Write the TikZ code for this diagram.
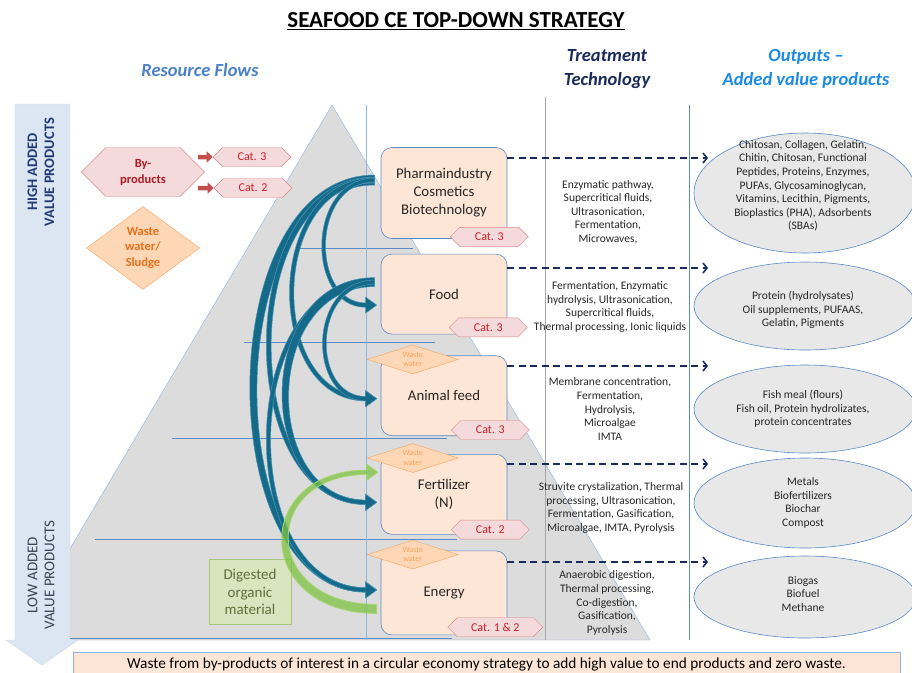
\documentclass[tikz,border=0pt]{standalone}
\usepackage{fontspec}
\setmainfont{Carlito}
\usepackage{tikz}
\usetikzlibrary{calc,positioning,arrows.meta,shapes.geometric,shapes.symbols}

\definecolor{peach}{HTML}{FDE6D5}
\definecolor{steel}{HTML}{5A8AC6}
\definecolor{rose}{HTML}{F4DADA}
\definecolor{roseline}{HTML}{D9898B}
\definecolor{catred}{HTML}{CC1F2A}
\definecolor{apricot}{HTML}{FDD7B6}
\definecolor{apricotline}{HTML}{F9A45C}
\definecolor{orangetext}{HTML}{E8701A}
\definecolor{petrol}{HTML}{156A8A}
\definecolor{petrolline}{HTML}{4B95B5}
\definecolor{leaf}{HTML}{7DC242}
\definecolor{leafline}{HTML}{A6D86E}
\definecolor{navy}{HTML}{1A2C5E}
\definecolor{mist}{HTML}{E8E8E8}
\definecolor{sky}{HTML}{8EB4E3}
\definecolor{pyramidgrey}{HTML}{DCDCDC}
\definecolor{iceblue}{HTML}{DCE6F2}
\definecolor{sage}{HTML}{D9E5BF}
\definecolor{sageline}{HTML}{A9C77A}
\definecolor{mossy}{HTML}{5F6F3A}
\definecolor{flowsblue}{HTML}{4A80C4}
\definecolor{techblue}{HTML}{1B2A5C}
\definecolor{outblue}{HTML}{1A8AE6}
\definecolor{highblue}{HTML}{1F3A75}
\definecolor{lowgrey}{HTML}{3C4255}
\definecolor{brick}{HTML}{C0504D}

% curved block arrow: [style]{from}{to}{bulge}{half width at start (sign = turn)}
\newcommand{\flowarc}[5][flow]{%
  \filldraw[#1] let \p1=(#2), \p2=(#3), \n1={#5}, \n2={2.2*#5/abs(#5)},
      \n3={1.5*abs(#5)+2}, \n4={8*#5/abs(#5)} in
    (\x1,\y1+\n1) .. controls (\x1-#4,\y1+\n1) and (\x1-#4,\y2-\n2) .. (\x2-11,\y2-\n2)
    -- (\x2-11,\y2-\n4) -- (\x2,\y2) -- (\x2-11,\y2+\n4) -- (\x2-11,\y2+\n2)
    .. controls (\x1-#4+\n3,\y2+\n2) and (\x1-#4+\n3,\y1-\n1) .. (\x1,\y1-\n1) -- cycle;}

\begin{document}
\begin{tikzpicture}
  [x=1pt,y=-1pt,
  stage/.style={rectangle,rounded corners=11pt,draw=steel,fill=peach,semithick,
    minimum width=126pt,minimum height=80pt,align=center,text=black!85,
    font=\fontsize{14.8}{18}\selectfont},
  cat/.style={signal,signal to=west and east,draw=roseline,fill=rose,text=catred,
    inner sep=0pt,minimum width=78pt,minimum height=19pt,font=\fontsize{12}{13}\selectfont},
  waste/.style={diamond,aspect=3,draw=apricotline,fill=apricot,text=apricotline,align=center,
    inner sep=0pt,minimum width=91pt,minimum height=29pt,font=\fontsize{8}{9.5}\selectfont},
  tech/.style={align=center,text=black!85,font=\fontsize{11.5}{13.6}\selectfont},
  output/.style={ellipse,draw=steel,fill=mist,semithick,minimum width=222pt},
  outtext/.style={align=center,text=black!85,font=\fontsize{11.5}{13.6}\selectfont},
  header/.style={align=center,font=\bfseries\itshape\fontsize{18.5}{24}\selectfont},
  level/.style={draw=steel,line width=.7pt},
  towards/.style={draw=navy,line width=1.6pt,dash pattern=on 7pt off 4.5pt,
    -{Straight Barb[length=4pt,width=10pt]}},
  push/.style={draw=brick,line width=4.5pt,-{Triangle[length=6pt,width=11pt]}},
  flow/.style={fill=petrol,draw=petrolline,line width=.5pt},
  regrow/.style={fill=leaf,fill opacity=.75,draw=leafline,line width=.8pt}
  ]
  \useasboundingbox (0,0) rectangle (912,672);

  % pyramid, levels and columns
  \filldraw[fill=pyramidgrey,draw=sky,thin] (332,105) -- (650,640) -- (16,640) -- cycle;
  \draw[level] (300,248) -- (413,248);
  \draw[level] (244,342) -- (435,342);
  \draw[level] (172,438) -- (447,438);
  \draw[level] (95,539) -- (457,539);
  \draw[level] (70,638) -- (452,638);
  \draw[sky,thin] (366,105) -- (366,640);
  \draw[black!35,thin] (545,97) -- (545,640);
  \draw[steel,thin] (689,105) -- (689,640);

  % value axis
  \filldraw[fill=iceblue,draw=iceblue!85!steel,thin] (15,104) -- (70,104) -- (70,640) -- (78,640)
    -- (42,665) -- (6,640) -- (15,640) -- cycle;
  \node[rotate=90,align=center,text=highblue,font=\bfseries\fontsize{14.5}{17}\selectfont]
    (high) at (41,172) {HIGH ADDED\\VALUE PRODUCTS};
  \node[rotate=90,align=center,text=lowgrey,font=\fontsize{15}{17}\selectfont]
    (low) at (41,575) {LOW ADDED\\VALUE PRODUCTS};

  % headings
  \node[font=\bfseries\fontsize{23}{26}\selectfont] (title) at (456,21)
    {\underline{SEAFOOD CE TOP-DOWN STRATEGY}};
  \node[header,text=flowsblue] (flows) at (200,70) {Resource Flows};
  \node[header,text=techblue] (treatment) at (607,69) {Treatment\\Technology};
  \node[header,text=outblue] (outputs) at (806,69) {Outputs –\\Added value products};

  % resources
  \node[signal,signal to=west and east,draw=roseline,fill=rose,text=catred!85!black,
    minimum width=123pt,minimum height=49pt,inner sep=0pt,align=center,
    font=\bfseries\fontsize{12.5}{16}\selectfont] (byproducts) at (143,172) {By-\\products};
  \node[cat] (bycat3) at (252,157) {Cat. 3};
  \node[cat] (bycat2) at (253,188) {Cat. 2};
  \coordinate (push3) at (198,157);
  \coordinate (push2) at (198,188);
  \draw[push] (push3) -- (bycat3);
  \draw[push] (push2) -- (bycat2);
  \node[diamond,aspect=1.36,draw=apricotline,fill=apricot,text=orangetext,align=center,
    inner sep=0pt,minimum width=113pt,minimum height=83pt,
    font=\bfseries\fontsize{12.5}{15.5}\selectfont] (sludge) at (143,248) {Waste\\water/\\Sludge};
  \node[rectangle,draw=sageline,fill=sage,semithick,minimum width=82pt,minimum height=65pt,
    align=center,text=mossy,font=\fontsize{15}{17.5}\selectfont]
    (digested) at (250,592) {Digested\\organic\\material};

  % uses
  \node[stage,minimum height=91pt] (pharma) at (444,193) {Pharmaindustry\\Cosmetics\\Biotechnology};
  \node[stage] (food) [below = 15pt of pharma] {Food};
  \node[stage] (animal) [below = 21pt of food] {Animal feed};
  \node[stage] (fert) [below = 18pt of animal] {Fertilizer\\(N)};
  \node[stage,minimum height=84pt] (energy) [below = 16pt of fert] {Energy};

  \node[waste] (animalww) at ($(animal.north west)+(32,4)$) {Waste\\water};
  \node[waste] (fertww) at ($(fert.north west)+(32,4)$) {Waste\\water};
  \node[waste] (energyww) at ($(energy.north west)+(32,4)$) {Waste\\water};

  \node[cat] (pharmacat) at ($(pharma.south east)+(-18,-2)$) {Cat. 3};
  \node[cat] (foodcat) at ($(food.south east)+(-19,-7)$) {Cat. 3};
  \node[cat] (animalcat) at ($(animal.south east)+(-17,-6)$) {Cat. 3};
  \node[cat] (fertcat) at ($(fert.south east)+(-17,-5)$) {Cat. 2};
  \node[cat,minimum width=95pt] (energycat) at ($(energy.south east)+(-12,-8)$) {Cat. 1 \& 2};

  % cascading flows
  \coordinate (pharmasrc) at ($(pharma.west)+(-6,-13)$);
  \coordinate (foodsrc) at ($(food.west)+(-6,-12)$);
  \coordinate (foodtip) at ($(food.west)+(-4,11)$);
  \coordinate (animaltip) at ($(animal.west)+(-4,3)$);
  \coordinate (fertip) at ($(fert.west)+(-4,8)$);
  \coordinate (energytip) at ($(energy.west)+(-4,-3)$);
  \coordinate (energysrc) at ($(energy.west)+(-4,16)$);
  \coordinate (fertgreen) at ($(fert.west)+(-3,-22)$);
  \flowarc{pharmasrc}{energytip}{165}{5}
  \flowarc{pharmasrc}{fertip}{143}{3}
  \flowarc{pharmasrc}{animaltip}{112}{2.5}
  \flowarc{pharmasrc}{foodtip}{69}{2}
  \flowarc{foodsrc}{energytip}{143}{2.5}
  \flowarc{foodsrc}{fertip}{122}{4.5}
  \flowarc{foodsrc}{animaltip}{68}{2}
  \flowarc[regrow]{energysrc}{fertgreen}{125}{-4.5}

  % treatments
  \node[tech] (pharmatech) at (608,212) {Enzymatic pathway,\\Supercritical fluids,\\Ultrasonication,\\Fermentation,\\Microwaves,};
  \node[tech] (foodtech) at (610,307) {Fermentation, Enzymatic\\hydrolysis, Ultrasonication,\\Supercritical fluids,\\Thermal processing, Ionic liquids};
  \node[tech] (animaltech) at (610,409) {Membrane concentration,\\Fermentation,\\Hydrolysis,\\Microalgae\\IMTA};
  \node[tech] (ferttech) at (611,508) {Struvite crystalization, Thermal\\processing, Ultrasonication,\\Fermentation, Gasification,\\Microalgae, IMTA, Pyrolysis};
  \node[tech] (energytech) at (607,603) {Anaerobic digestion,\\Thermal processing,\\Co-digestion,\\Gasification,\\Pyrolysis};

  % outputs
  \node[output,minimum height=120pt] (bioactives) at (805,193) {};
  \node[output,minimum height=88pt] (proteins) at (805,306) {};
  \node[output,minimum height=88pt] (fishmeal) at (805,409) {};
  \node[output,minimum height=90pt] (nutrients) at (805,503) {};
  \node[output,minimum height=82pt] (fuels) at (805,597) {};
  \node[outtext] (bioactivestext) at (803,186) {Chitosan, Collagen, Gelatin,\\Chitin, Chitosan, Functional\\Peptides, Proteins, Enzymes,\\PUFAs, Glycosaminoglycan,\\Vitamins, Lecithin, Pigments,\\Bioplastics (PHA), Adsorbents\\(SBAs)};
  \node[outtext] (proteinstext) at (803,310) {Protein (hydrolysates)\\Oil supplements, PUFAAS,\\Gelatin, Pigments};
  \node[outtext] (fishmealtext) at (803,409) {Fish meal (flours)\\Fish oil, Protein hydrolizates,\\protein concentrates};
  \node[outtext] (nutrientstext) at (803,503) {Metals\\Biofertilizers\\Biochar\\Compost};
  \node[outtext] (fuelstext) at (803,594) {Biogas\\Biofuel\\Methane};

  \coordinate (tip1) at (708,158);
  \coordinate (tip2) at (708,268);
  \coordinate (tip3) at (708,366);
  \coordinate (tip4) at (708,464);
  \coordinate (tip5) at (708,562);
  \draw[towards] (pharma.east |- tip1) -- (tip1);
  \draw[towards] (food.east |- tip2) -- (tip2);
  \draw[towards] (animal.east |- tip3) -- (tip3);
  \draw[towards] (fert.east |- tip4) -- (tip4);
  \draw[towards] (energy.east |- tip5) -- (tip5);

  % summary
  \node[draw=sky,fill=peach,semithick,minimum width=827pt,minimum height=24pt,
    font=\fontsize{15.3}{17}\selectfont] (summary) at (486.5,664)
    {Waste from by-products of interest in a circular economy strategy to add high value to end products and zero waste.};
\end{tikzpicture}
\end{document}
